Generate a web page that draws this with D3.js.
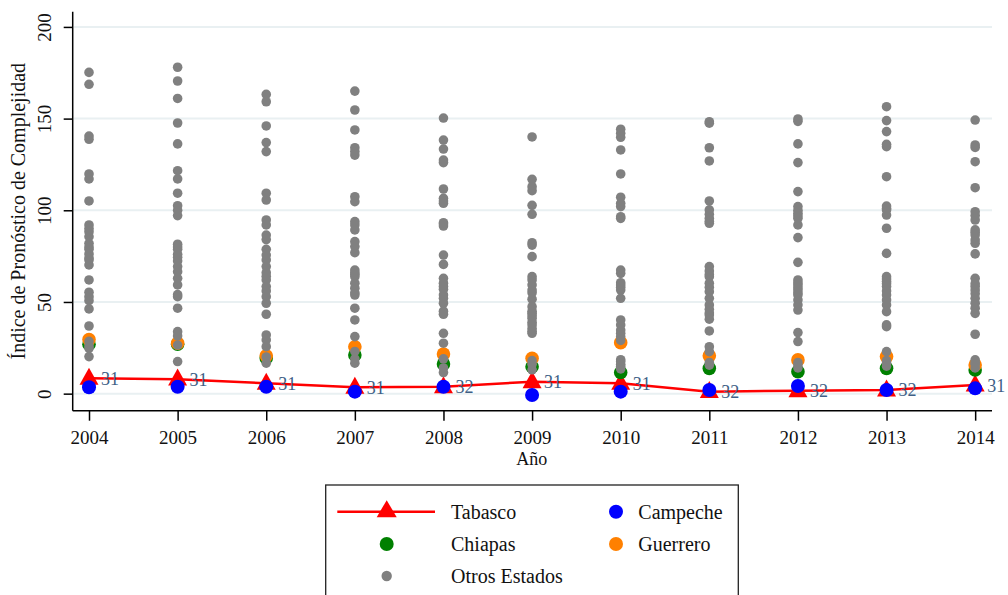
<!DOCTYPE html>
<html>
<head>
<meta charset="utf-8">
<script src="https://cdn.jsdelivr.net/npm/d3@7"></script>
<style>
  html, body { margin: 0; padding: 0; background: #fff; }
  svg { display: block; }
  text { font-family: "Liberation Serif", "DejaVu Serif", serif; fill: #111; }
</style>
</head>
<body>
<svg id="chart" width="1008" height="595"></svg>
<script>
// ---- data ----
const years = [2004, 2005, 2006, 2007, 2008, 2009, 2010, 2011, 2012, 2013, 2014];
const tabasco = [8.4, 7.9, 5.7, 3.5, 3.8, 6.5, 5.7, 1.1, 1.6, 2.0, 4.7];
const tabascoRank = ["31", "31", "31", "31", "32", "31", "31", "32", "32", "32", "31"];
const campeche = [3.5, 3.8, 3.8, 1.1, 3.8, -0.7, 1.1, 2.0, 4.2, 2.0, 2.9];
const chiapas = [27.0, 27.0, 19.5, 21.1, 16.2, 14.7, 11.5, 13.8, 12.0, 13.8, 12.9];
const guerrero = [29.5, 27.5, 20.6, 25.6, 21.6, 19.3, 27.8, 20.6, 18.4, 20.2, 15.6];
const otros = [
  [175.2, 168.7, 140.5, 138.7, 119.8, 117.1, 105.1, 92, 90, 88.3, 85.6, 82, 80, 78.7, 76.2, 74, 72.9, 70.2, 62, 55.3, 52.9, 50.7, 46.2, 36.9, 28.5, 26, 24.7, 20.2],
  [178, 170.5, 161, 147.6, 136.2, 121.6, 117.1, 109.3, 102.5, 100, 97.1, 81.5, 80, 78.7, 76, 74.4, 72.4, 69.3, 66.5, 62.9, 59.3, 54, 52.9, 46.6, 33.8, 31.5, 26.5, 17.5],
  [163.2, 159.2, 146, 136.9, 132, 109.3, 105.6, 94.7, 92, 86.5, 84, 78.7, 75.6, 72.9, 69.3, 66, 64, 62, 58.4, 56, 52.9, 49.3, 43.3, 32, 29.3, 25.6, 20, 16.6],
  [165, 154.7, 143.8, 134.1, 132, 130.1, 107.4, 104.7, 93.8, 92, 89.3, 82.9, 80.2, 76.9, 67.4, 66, 65, 63.8, 60.2, 57.5, 55, 53.8, 46.6, 40.2, 31.1, 23, 19, 16.6],
  [150.3, 138.3, 133.4, 127.4, 126, 111.6, 106.5, 105, 103.8, 93.2, 92.5, 91.4, 75.6, 70.5, 62.9, 60.2, 58.5, 56.9, 53.8, 52, 49.3, 45, 43.3, 32.9, 27.5, 19, 14, 11.5],
  [140, 116.9, 112.9, 110.7, 102.7, 97.8, 82.3, 81, 74.7, 63.8, 62, 59.3, 56.5, 55, 51.5, 47.4, 45, 43.8, 42.5, 41.1, 39, 37.5, 35.5, 34, 32.9, 18, 16, 13],
  [144.2, 142, 139.8, 132.9, 119.8, 107.1, 103.8, 102, 96.5, 95.6, 67.4, 65.6, 60.5, 59.3, 58, 56.5, 52, 40.2, 37.5, 34.7, 33, 31.1, 29, 18.5, 17.5, 16, 15, 13.5],
  [148.3, 147.5, 134.1, 126.9, 105.1, 100.2, 97.8, 95.6, 94, 92.9, 69.3, 66.9, 65, 63.8, 60.2, 58, 55.6, 52, 48.4, 46, 44, 42.9, 40.6, 34.2, 25.6, 22.9, 17, 15.5],
  [149.8, 148.5, 136.2, 126, 110.2, 102, 100, 98.4, 97, 95.6, 92, 85.1, 71.6, 62, 60.5, 59.3, 57.8, 56.5, 55, 53.8, 51.1, 48.4, 45.6, 33.3, 28.4, 17, 15.6, 14],
  [156.5, 148.9, 142.9, 136, 134.7, 118.3, 102.3, 101, 100.2, 97.4, 90.2, 76.5, 63.8, 62.5, 61.1, 60, 58.4, 56, 53.8, 51.1, 48.4, 44.7, 37.5, 36.5, 22.9, 18, 16.6, 15],
  [149.2, 135.6, 134.3, 126.5, 112.3, 99.2, 97.1, 94.7, 89.3, 88, 86.5, 83.8, 82, 76.2, 62.9, 60, 58.4, 56.5, 54.5, 52, 49.3, 46.6, 43.8, 32.4, 18.4, 17, 16, 14]
];
const yTicks = [0, 50, 100, 150, 200];
const xTitle = "Año";
const yTitle = "Índice de Pronóstico de Complejidad";
const legendLabels = ["Tabasco", "Campeche", "Chiapas", "Guerrero", "Otros Estados"];

// ---- drawing ----
(function () {
const svg = d3.select("#chart");
const pl = 72.7, pr = 992, pt = 11.7, pb = 410.7;
const x = d3.scaleLinear().domain([2003.816, 2014.19]).range([pl, pr]);
const y = d3.scaleLinear().domain([-9.3, 208.3]).range([pb, pt]);

const colRed = "#ff0000", colBlue = "#0000ff", colGreen = "#008000", colOrange = "#ff8000", colGrey = "#808080";
const labelCol = "#3e5f86";

// gridlines
svg.append("g").selectAll("line").data(yTicks).join("line")
  .attr("x1", pl + 1).attr("x2", pr)
  .attr("y1", d => y(d)).attr("y2", d => y(d))
  .attr("stroke", "#e9f0f2").attr("stroke-width", 2);

// axes
const yAxis = svg.append("g").attr("transform", `translate(${pl},0)`)
  .call(d3.axisLeft(y).tickValues(yTicks).tickSize(9).tickFormat(d3.format("d")));
yAxis.attr("font-family", null);
yAxis.select(".domain").attr("d", `M0,${pt}V${pb}`).attr("stroke", "#000").attr("stroke-width", 1.5);
yAxis.selectAll(".tick line").attr("stroke", "#000").attr("stroke-width", 1.5);
yAxis.selectAll(".tick text")
  .attr("x", null).attr("dy", null)
  .attr("transform", "translate(-22,0) rotate(-90)")
  .attr("text-anchor", "middle")
  .style("font-size", "19px").attr("fill", "#111");

const xAxis = svg.append("g").attr("transform", `translate(0,${pb})`)
  .call(d3.axisBottom(x).tickValues(years).tickSize(10).tickFormat(d3.format("d")));
xAxis.attr("font-family", null);
xAxis.select(".domain").attr("d", `M${pl},0H${pr}`).attr("stroke", "#000").attr("stroke-width", 1.5);
xAxis.selectAll(".tick line").attr("stroke", "#000").attr("stroke-width", 1.5);
xAxis.selectAll(".tick text").attr("dy", null).attr("y", 33)
  .style("font-size", "19px").attr("fill", "#111");

// axis titles
svg.append("text").attr("x", (pl + pr) / 2 - 0.5).attr("y", 465)
  .attr("text-anchor", "middle").style("font-size", "18px").text(xTitle);
svg.append("text").attr("transform", `translate(25,${(pt + pb) / 2}) rotate(-90)`)
  .attr("text-anchor", "middle").style("font-size", "20px").text(yTitle);

function tri(w, h) { return `M0,${-h * 0.62}L${w / 2},${h * 0.38}L${-w / 2},${h * 0.38}Z`; }

// Tabasco line + triangles
svg.append("path").datum(years)
  .attr("d", d3.line().x(d => x(d)).y((d, i) => y(tabasco[i])))
  .attr("fill", "none").attr("stroke", colRed).attr("stroke-width", 2.5);
svg.append("g").selectAll("path").data(years).join("path")
  .attr("transform", (d, i) => `translate(${x(d)},${y(tabasco[i])})`)
  .attr("d", tri(19, 17)).attr("fill", colRed);

// Campeche
svg.append("g").selectAll("circle").data(years).join("circle")
  .attr("cx", d => x(d)).attr("cy", (d, i) => y(campeche[i])).attr("r", 7).attr("fill", colBlue);
// Chiapas
svg.append("g").selectAll("circle").data(years).join("circle")
  .attr("cx", d => x(d)).attr("cy", (d, i) => y(chiapas[i])).attr("r", 6.8).attr("fill", colGreen);
// Guerrero
svg.append("g").selectAll("circle").data(years).join("circle")
  .attr("cx", d => x(d)).attr("cy", (d, i) => y(guerrero[i])).attr("r", 6.8).attr("fill", colOrange);
// Otros
const otrosPts = [];
years.forEach((yr, i) => otros[i].forEach(v => otrosPts.push({ yr, v })));
svg.append("g").selectAll("circle").data(otrosPts).join("circle")
  .attr("cx", d => x(d.yr)).attr("cy", d => y(d.v)).attr("r", 4.8).attr("fill", colGrey);

// Tabasco rank labels
svg.append("g").selectAll("text").data(years).join("text")
  .attr("x", d => x(d) + 12).attr("y", (d, i) => y(tabasco[i]) + 6.5)
  .style("font-size", "18px").style("fill", labelCol)
  .text((d, i) => tabascoRank[i]);

// legend
const lg = svg.append("g");
lg.append("rect").attr("x", 325.7).attr("y", 485).attr("width", 412.6).attr("height", 130)
  .attr("fill", "#fff").attr("stroke", "#222").attr("stroke-width", 1.3);
const r1 = 511.7, r2 = 544, r3 = 576;
const c1 = 386.7, c2 = 616, t1 = 451, t2 = 638.3;
lg.append("line").attr("x1", 337.3).attr("x2", 435).attr("y1", r1).attr("y2", r1)
  .attr("stroke", colRed).attr("stroke-width", 2.5);
lg.append("path").attr("transform", `translate(${c1},${r1 - 1})`).attr("d", tri(20, 17)).attr("fill", colRed);
lg.append("circle").attr("cx", c2).attr("cy", r1).attr("r", 7).attr("fill", colBlue);
lg.append("circle").attr("cx", c1).attr("cy", r2).attr("r", 7).attr("fill", colGreen);
lg.append("circle").attr("cx", c2).attr("cy", r2).attr("r", 7).attr("fill", colOrange);
lg.append("circle").attr("cx", c1).attr("cy", r3).attr("r", 5.2).attr("fill", colGrey);
const lpos = [[t1, r1], [t2, r1], [t1, r2], [t2, r2], [t1, r3]];
lg.selectAll("text.lab").data(legendLabels).join("text").attr("class", "lab")
  .attr("x", (d, i) => lpos[i][0]).attr("y", (d, i) => lpos[i][1] + 7)
  .style("font-size", "20px").text(d => d);
})();
</script>
</body>
</html>
